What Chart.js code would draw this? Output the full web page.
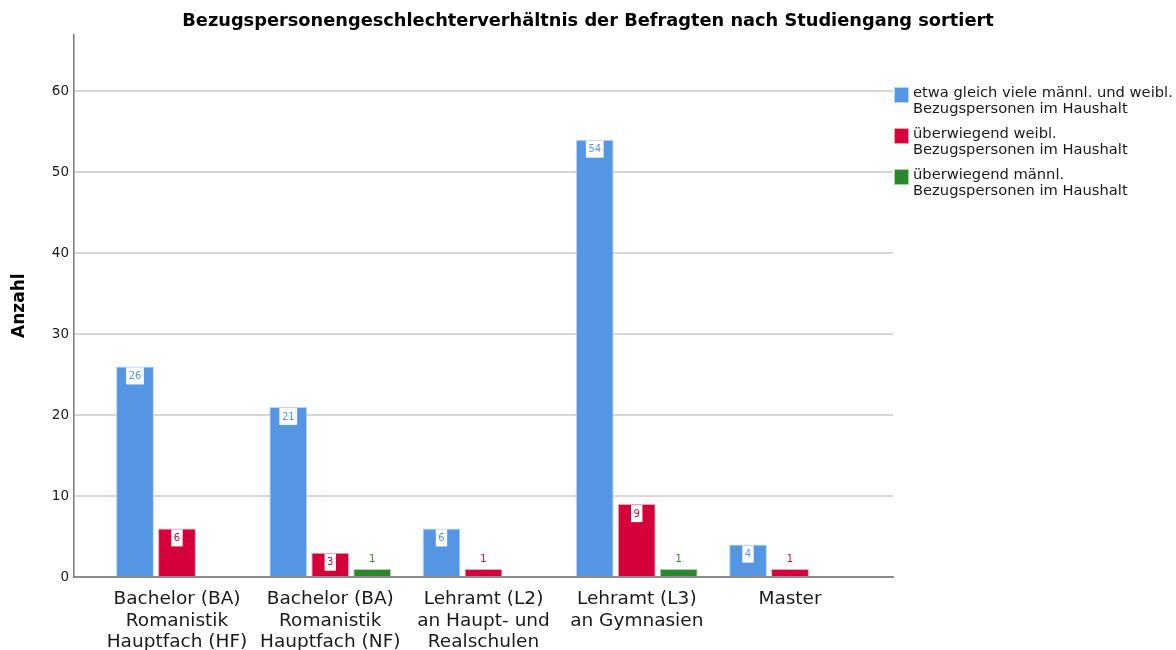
<!DOCTYPE html>
<html>
<head>
<meta charset="utf-8">
<script src="https://cdn.jsdelivr.net/npm/chart.js@4.4.1/dist/chart.umd.min.js"></script>
<style>
  html, body { margin: 0; padding: 0; background: #fff; }
  #wrap { width: 1176px; height: 650px; }
</style>
</head>
<body>
<div id="wrap"><canvas id="myChart"></canvas></div>
<script>
// Data
const categories = [
  ['Bachelor (BA)', 'Romanistik', 'Hauptfach (HF)'],
  ['Bachelor (BA)', 'Romanistik', 'Hauptfach (NF)'],
  ['Lehramt (L2)', 'an Haupt- und', 'Realschulen'],
  ['Lehramt (L3)', 'an Gymnasien'],
  ['Master']
];
const seriesNames = [
  ['etwa gleich viele männl. und weibl.', 'Bezugspersonen im Haushalt'],
  ['überwiegend weibl.', 'Bezugspersonen im Haushalt'],
  ['überwiegend männl.', 'Bezugspersonen im Haushalt']
];
const equalValues = [26, 21, 6, 54, 4];
const femaleValues = [6, 3, 1, 9, 1];
const maleValues = [null, 1, null, 1, null];
const yTicks = [0, 10, 20, 30, 40, 50, 60];

const colors = ['#5596e4', '#d5003a', '#2a872a'];
const borders = ['#b9d3f3', '#f0a0b4', '#a8d0a8'];
const font = "'DejaVu Sans', 'Liberation Sans', Arial, sans-serif";

function toPoints(values) {
  return values.map((v, i) => ({ x: i, y: v }));
}

// Labels on the bars
const valueLabels = {
  id: 'valueLabels',
  afterDatasetsDraw(chart) {
    const ctx = chart.ctx;
    ctx.save();
    ctx.font = '10px ' + font;
    ctx.textAlign = 'center';
    ctx.textBaseline = 'middle';
    chart.data.datasets.forEach((ds, di) => {
      const meta = chart.getDatasetMeta(di);
      meta.data.forEach((bar, i) => {
        const v = ds.data[i].y;
        if (v === null) return;
        const txt = String(v);
        if (v >= 3) {
          const w = ctx.measureText(txt).width + 5;
          ctx.fillStyle = '#fff';
          ctx.fillRect(bar.x - w / 2, bar.y + 1, w, 17);
          ctx.fillStyle = colors[di];
          ctx.fillText(txt, bar.x, bar.y + 10);
        } else {
          ctx.fillStyle = colors[di];
          ctx.fillText(txt, bar.x, bar.y - 9);
        }
      });
    });
    ctx.restore();
  }
};

// Legend on the right
const sideLegend = {
  id: 'sideLegend',
  afterDraw(chart) {
    const ctx = chart.ctx;
    const left = chart.chartArea.right + 1;
    let top = 87;
    ctx.save();
    ctx.font = '14.7px ' + font;
    ctx.textBaseline = 'top';
    chart.data.datasets.forEach((ds, di) => {
      ctx.fillStyle = borders[di];
      ctx.fillRect(left, top, 15, 16);
      ctx.fillStyle = colors[di];
      ctx.fillRect(left + 1, top + 1, 13, 14);
      ctx.fillStyle = '#1a1a1a';
      ds.label.forEach((line, li) => {
        ctx.fillText(line, left + 19, top - 1 + li * 16);
      });
      top += 41;
    });
    ctx.restore();
  }
};

const ctx = document.getElementById('myChart');

const myChart = new Chart(ctx, {
  type: 'bar',
  data: {
    datasets: [
      { label: seriesNames[0], data: toPoints(equalValues) },
      { label: seriesNames[1], data: toPoints(femaleValues) },
      { label: seriesNames[2], data: toPoints(maleValues) }
    ].map((ds, i) => Object.assign(ds, {
      backgroundColor: colors[i],
      borderColor: borders[i],
      borderWidth: 1,
      categoryPercentage: 0.822,
      barPercentage: 0.9
    }))
  },
  options: {
    responsive: true,
    maintainAspectRatio: false,
    animation: false,
    layout: { padding: 0 },
    plugins: {
      legend: { display: false },
      tooltip: { enabled: false },
      title: {
        display: true,
        text: 'Bezugspersonengeschlechterverhältnis der Befragten nach Studiengang sortiert',
        color: '#000',
        font: { family: font, size: 17.8, weight: 'bold' },
        padding: { top: 11, bottom: 2 }
      }
    },
    scales: {
      x: {
        type: 'linear',
        offset: false,
        min: -0.672,
        max: 4.672,
        afterBuildTicks: s => { s.ticks = categories.map((c, i) => ({ value: i })); },
        afterFit: s => { s.height = 73; },
        grid: { display: false, drawTicks: false, offset: false },
        border: { display: true, color: '#8c8c8c', width: 2 },
        ticks: {
          autoSkip: false,
          maxRotation: 0,
          padding: 11,
          color: '#1a1a1a',
          font: { family: font, size: 18.5, lineHeight: 1.18 },
          callback: v => categories[v]
        }
      },
      y: {
        min: 0,
        max: 67,
        afterBuildTicks: s => { s.ticks = yTicks.map(v => ({ value: v })); },
        afterFit: s => { s.width = 74; },
        grid: { color: '#d6d6d6', lineWidth: 2, drawTicks: false },
        border: { display: true, color: '#7a7a7a', width: 1.5 },
        ticks: {
          padding: 5,
          color: '#1a1a1a',
          font: { family: font, size: 13.5 }
        },
        title: {
          display: true,
          text: 'Anzahl',
          color: '#000',
          font: { family: font, size: 17, weight: 'bold' },
          padding: { top: 9, bottom: 0 }
        }
      },
      side: {
        type: 'linear',
        position: 'right',
        display: true,
        afterFit: s => { s.width = 283; },
        grid: { display: false, drawTicks: false },
        border: { display: false },
        ticks: { display: false }
      }
    }
  },
  plugins: [valueLabels, sideLegend]
});
</script>
</body>
</html>
